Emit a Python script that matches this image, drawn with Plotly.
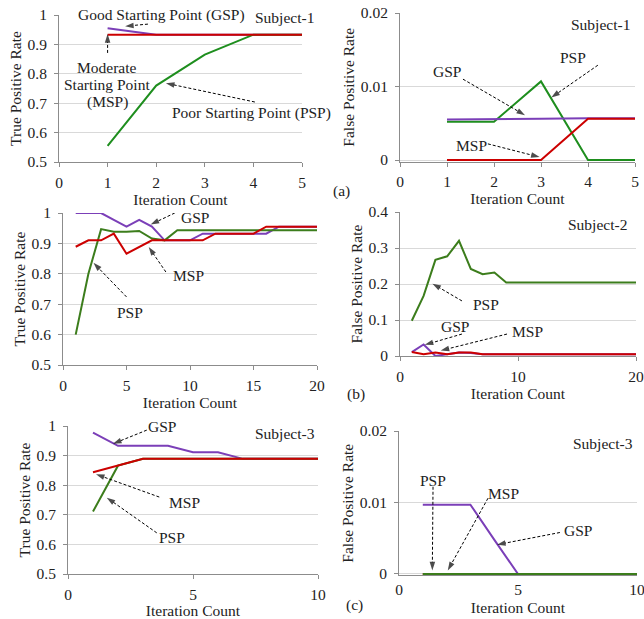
import plotly.graph_objects as go

# ---------------- data ----------------
iter_a = [1, 2, 3, 4, 5]
tpr_a_gsp = [0.955, 0.933, 0.933, 0.933, 0.933]
tpr_a_msp = [0.933, 0.933, 0.933, 0.933, 0.933]
tpr_a_psp = [0.555, 0.76, 0.865, 0.933, 0.933]
fpr_a_gsp = [0.0055, 0.0055, 0.0056, 0.0057, 0.0057]
fpr_a_msp = [0.0, 0.0, 0.0, 0.0056, 0.0056]
fpr_a_psp = [0.0052, 0.0052, 0.0107, 0.0, 0.0]

iter_b = list(range(1, 21))
tpr_b_gsp = [1.0, 1.0, 1.0, 0.977, 0.955, 0.977, 0.955, 0.91, 0.91, 0.91,
             0.932, 0.932, 0.932, 0.932, 0.932, 0.932, 0.955, 0.955, 0.955, 0.955]
tpr_b_msp = [0.889, 0.91, 0.91, 0.932, 0.866, 0.889, 0.91, 0.91, 0.91, 0.91,
             0.91, 0.932, 0.932, 0.932, 0.932, 0.955, 0.955, 0.955, 0.955, 0.955]
tpr_b_psp = [0.6, 0.8, 0.947, 0.938, 0.938, 0.941, 0.916, 0.91, 0.943, 0.943,
             0.943, 0.943, 0.943, 0.943, 0.943, 0.943, 0.943, 0.943, 0.943, 0.943]
fpr_b_gsp = [0.011, 0.032, 0.0, 0.005, 0.01, 0.008, 0.005, 0.005, 0.005, 0.005,
             0.005, 0.005, 0.005, 0.005, 0.005, 0.005, 0.005, 0.005, 0.005, 0.005]
fpr_b_msp = [0.011, 0.005, 0.01, 0.005, 0.01, 0.01, 0.005, 0.005, 0.005, 0.005,
             0.005, 0.005, 0.005, 0.005, 0.005, 0.005, 0.005, 0.005, 0.005, 0.005]
fpr_b_psp = [0.098, 0.167, 0.267, 0.277, 0.32, 0.242, 0.227, 0.232, 0.204, 0.204,
             0.204, 0.204, 0.204, 0.204, 0.204, 0.204, 0.204, 0.204, 0.204, 0.204]

iter_c = list(range(1, 11))
tpr_c_gsp = [0.978, 0.933, 0.933, 0.933, 0.911, 0.911, 0.889, 0.889, 0.889, 0.889]
tpr_c_msp = [0.844, 0.866, 0.889, 0.889, 0.889, 0.889, 0.889, 0.889, 0.889, 0.889]
tpr_c_psp = [0.711, 0.866, 0.889, 0.889, 0.889, 0.889, 0.889, 0.889, 0.889, 0.889]
fpr_c_gsp = [0.0097, 0.0097, 0.0097, 0.0048, 0.0, 0.0, 0.0, 0.0, 0.0, 0.0]
fpr_c_msp = [0.0, 0.0, 0.0, 0.0, 0.0, 0.0, 0.0, 0.0, 0.0, 0.0]
fpr_c_psp = [0.0, 0.0, 0.0, 0.0, 0.0, 0.0, 0.0, 0.0, 0.0, 0.0]

# ---------------- styles ----------------
W, H = 644, 619
FONT = "Liberation Serif, Times New Roman, serif"
PURPLE = "#7B3FB8"
RED = "#CC0000"
GREEN1 = "#1E8E1E"
GREEN2 = "#3C7D1C"
LW = 2
FS = 15.5

fig = go.Figure()

def line(x, y, color, ax):
    fig.add_trace(go.Scatter(x=x, y=y, mode="lines", line=dict(color=color, width=LW),
                             xaxis="x" + ax, yaxis="y" + ax, showlegend=False,
                             hoverinfo="skip", cliponaxis=False))

# panel 1
line(iter_a, tpr_a_gsp, PURPLE, "")
line(iter_a, tpr_a_psp, GREEN1, "")
line(iter_a, tpr_a_msp, RED, "")
# panel 2
line(iter_a, fpr_a_psp, GREEN1, "2")
line(iter_a, fpr_a_gsp, PURPLE, "2")
line(iter_a, fpr_a_msp, RED, "2")
# panel 3
line(iter_b, tpr_b_gsp, PURPLE, "3")
line(iter_b, tpr_b_psp, GREEN2, "3")
line(iter_b, tpr_b_msp, RED, "3")
# panel 4
line(iter_b, fpr_b_psp, GREEN2, "4")
line(iter_b, fpr_b_gsp, PURPLE, "4")
line(iter_b, fpr_b_msp, RED, "4")
# panel 5
line(iter_c, tpr_c_gsp, PURPLE, "5")
line(iter_c, tpr_c_psp, GREEN2, "5")
line(iter_c, tpr_c_msp, RED, "5")
# panel 6
line(iter_c, fpr_c_gsp, PURPLE, "6")
line(iter_c, fpr_c_msp, RED, "6")
line(iter_c, fpr_c_psp, GREEN2, "6")

# dashed arrows: (axis, tail_x, tail_y, tip_x, tip_y)
arrows = [
    ("", 1.83, 0.969, 1.36, 0.962),
    ("", 1.0, 0.871, 1.0, 0.935),
    ("", 4.03, 0.704, 2.2, 0.768),
    ("2", 4.21, 0.0129, 3.22, 0.0085),
    ("2", 1.34, 0.0110, 2.66, 0.0061),
    ("2", 1.87, 0.0022, 2.97, 0.0004),
    ("3", 8.8, 1.0, 6.9, 0.962),
    ("3", 8.1, 0.806, 6.75, 0.888),
    ("3", 5.0, 0.724, 2.4, 0.836),
    ("4", 5.25, 0.153, 2.75, 0.201),
    ("4", 5.25, 0.061, 2.1, 0.031),
    ("4", 9.07, 0.061, 3.45, 0.015),
    ("5", 3.15, 0.986, 1.8, 0.94),
    ("5", 3.65, 0.76, 1.12, 0.837),
    ("5", 3.55, 0.639, 1.55, 0.758),
    ("6", 1.43, 0.0122, 1.4, 0.0005),
    ("6", 3.74, 0.0106, 2.05, 0.0005),
    ("6", 6.76, 0.0058, 4.12, 0.0041),
]
for ax, x0, y0, x1, y1 in arrows:
    fig.add_trace(go.Scatter(
        x=[x0, x1], y=[y0, y1], mode="lines+markers",
        line=dict(color="black", width=1, dash="3px,2px"),
        marker=dict(symbol="arrow", angleref="previous", size=[0, 9], color="black",
                    line=dict(width=0)),
        xaxis="x" + ax, yaxis="y" + ax, showlegend=False, hoverinfo="skip",
        cliponaxis=False))

# text labels: (axis, x, y, text)
texts = [
    ("", 2.1, 0.999, "Good Starting Point (GSP)"),
    ("", 4.65, 0.993, "Subject-1"),
    ("", 0.99, 0.820, "Moderate"),
    ("", 0.99, 0.762, "Starting Point"),
    ("", 1.0, 0.704, "(MSP)"),
    ("", 3.97, 0.665, "Poor Starting Point (PSP)"),
    ("2", 4.26, 0.0185, "Subject-1"),
    ("2", 3.68, 0.0140, "PSP"),
    ("2", 1.0, 0.0120, "GSP"),
    ("2", 1.53, 0.0020, "MSP"),
    ("3", 17.5, 1.01, "Subject-2"),
    ("3", 10.4, 0.984, "GSP"),
    ("3", 9.85, 0.796, "MSP"),
    ("3", 5.3, 0.674, "PSP"),
    ("4", 16.7, 0.364, "Subject-2"),
    ("4", 7.3, 0.144, "PSP"),
    ("4", 4.66, 0.083, "GSP"),
    ("4", 10.8, 0.067, "MSP"),
    ("5", 8.68, 0.973, "Subject-3"),
    ("5", 3.77, 0.997, "GSP"),
    ("5", 4.65, 0.74, "MSP"),
    ("5", 4.15, 0.625, "PSP"),
    ("6", 8.57, 0.0183, "Subject-3"),
    ("6", 1.43, 0.0131, "PSP"),
    ("6", 4.37, 0.0112, "MSP"),
    ("6", 7.52, 0.0061, "GSP"),
]
annotations = []
for ax, x, y, t in texts:
    annotations.append(dict(x=x, y=y, xref="x" + ax, yref="y" + ax, text=t,
                            showarrow=False, font=dict(family=FONT, size=FS, color="#222"),
                            xanchor="center", yanchor="middle"))
for lbl, px, py in [("(a)", 341, 191), ("(b)", 356, 394), ("(c)", 354, 605)]:
    annotations.append(dict(x=px / W, y=1 - py / H, xref="paper", yref="paper", text=lbl,
                            showarrow=False, font=dict(family=FONT, size=FS, color="#222"),
                            xanchor="center", yanchor="middle"))

def xax(dom, rng, dtick, anchor, ticklen=4, lblstand=2, tstand=0):
    return dict(domain=dom, range=rng, dtick=dtick, tick0=0, anchor=anchor,
                automargin=False, ticklabeloverflow="allow", layer="below traces",
                showgrid=False, zeroline=False, showline=True, linecolor="#8c8c8c",
                linewidth=1, ticks="outside" if ticklen else "", ticklen=max(ticklen, 1),
                tickcolor="#8c8c8c", ticklabelstandoff=lblstand,
                tickfont=dict(family=FONT, size=FS, color="#222"),
                title=dict(text="Iteration Count", standoff=tstand,
                           font=dict(family=FONT, size=FS, color="#222")))

def yax(dom, rng, dtick, anchor, title, tick0=None):
    d = dict(domain=dom, range=rng, dtick=dtick, anchor=anchor,
             automargin=False, ticklabeloverflow="allow", layer="below traces",
             showgrid=True, gridcolor="#d9d9d9", gridwidth=1, zeroline=False,
             showline=True, linecolor="#8c8c8c", linewidth=1,
             ticks="outside", ticklen=4, tickcolor="#8c8c8c",
             ticklabelstandoff=4,
             tickfont=dict(family=FONT, size=FS, color="#222"),
             title=dict(text=title, standoff=2,
                        font=dict(family=FONT, size=FS, color="#222")))
    if tick0 is not None:
        d["tick0"] = tick0
    return d

def dx(a, b):
    return [a / W, b / W]

def dy(top, bottom):
    return [1 - bottom / H, 1 - top / H]

TPR = "True Positive Rate"
FPR = "False Positive Rate"
fig.update_layout(
    width=W, height=H, margin=dict(l=0, r=0, t=0, b=0, autoexpand=False),
    paper_bgcolor="white", plot_bgcolor="white",
    xaxis=xax(dx(59, 302), [0, 5], 1, "y"),
    yaxis=yax(dy(15, 162), [0.5, 1], 0.1, "x", TPR),
    xaxis2=xax(dx(400, 635), [0, 5], 1, "y2"),
    yaxis2=yax(dy(13, 161.5), [-0.0002, 0.02], 0.01, "x2", FPR, tick0=0),
    xaxis3=xax(dx(63, 317), [0, 20], 5, "y3"),
    yaxis3=yax(dy(213, 365), [0.5, 1], 0.1, "x3", TPR),
    xaxis4=xax(dx(400, 636), [0, 20], 10, "y4"),
    yaxis4=yax(dy(212, 356), [0, 0.4], 0.1, "x4", FPR),
    xaxis5=xax(dx(68, 318), [0, 10], 5, "y5"),
    yaxis5=yax(dy(426, 574), [0.5, 1], 0.1, "x5", TPR),
    xaxis6=xax(dx(399, 637), [0, 10], 5, "y6", ticklen=0, lblstand=0, tstand=5),
    yaxis6=yax(dy(431, 575.4), [-0.0002, 0.02], 0.01, "x6", FPR, tick0=0),
    annotations=annotations,
)

fig.write_html("out.html", config={"displayModeBar": False},
               post_script="document.body.style.margin='0';document.body.style.padding='0';"
                           "document.body.style.overflow='hidden';")
